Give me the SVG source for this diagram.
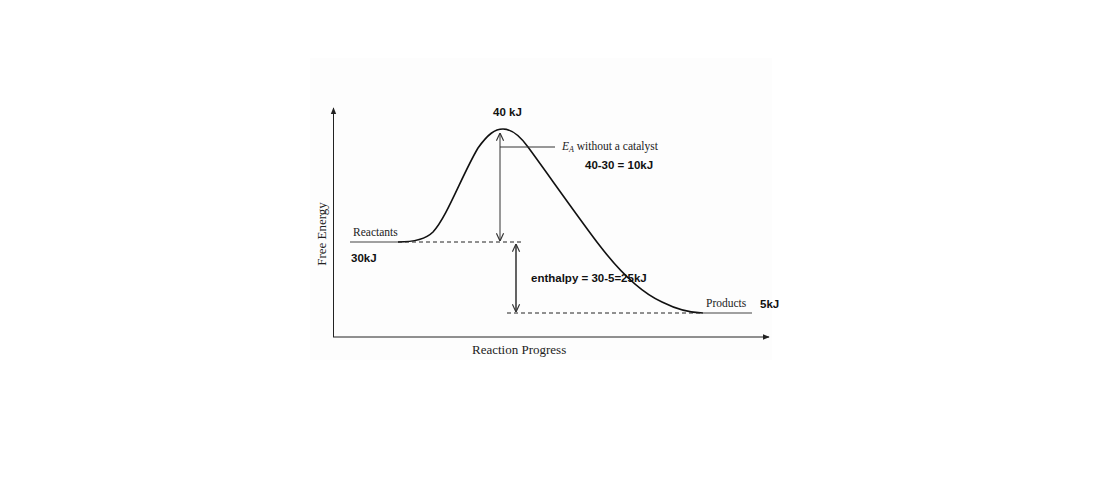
<svg xmlns="http://www.w3.org/2000/svg" width="1104" height="498" viewBox="0 0 1104 498">
<defs>
<marker id="axisHead" viewBox="0 0 10 10" refX="9" refY="5" markerWidth="7" markerHeight="7" orient="auto-start-reverse" markerUnits="userSpaceOnUse">
<path d="M0,1 L10,5 L0,9 Z" fill="#222"/>
</marker>
<marker id="vHead" viewBox="0 0 10 10" refX="9.5" refY="5" markerWidth="9" markerHeight="9" orient="auto-start-reverse" markerUnits="userSpaceOnUse">
<path d="M1,1 L9.5,5 L1,9" fill="none" stroke="#333" stroke-width="1.3"/>
</marker>
</defs>
<style>
.serif{font-family:"Liberation Serif","Times New Roman",serif;fill:#222}
.bold{font-family:"Liberation Sans",Arial,sans-serif;font-weight:bold;font-size:11.5px;fill:#111}
.dash{stroke:#222;stroke-width:1;stroke-dasharray:4,3;fill:none}
.level{stroke:#a0a0a0;stroke-width:2;fill:none}
</style>
<rect x="0" y="0" width="1104" height="498" fill="#ffffff"/>
<rect x="310" y="58" width="462" height="302" fill="#fdfdfd"/>
<g id="axes">
<line x1="333.5" y1="337" x2="333.5" y2="108" stroke="#222" stroke-width="1" marker-end="url(#axisHead)"/>
<line x1="333" y1="337" x2="769" y2="337" stroke="#222" stroke-width="1" marker-end="url(#axisHead)"/>
<text class="serif" x="472" y="354" font-size="13">Reaction Progress</text>
<text class="serif" font-size="13" text-anchor="middle" transform="translate(326,234) rotate(-90)">Free Energy</text>
</g>
<g id="reactants">
<line class="level" x1="350" y1="242" x2="398" y2="242"/>
<text class="serif" x="353" y="236" font-size="11.5">Reactants</text>
<text class="bold" x="351" y="262">30kJ</text>
</g>
<g id="products">
<line class="level" x1="703" y1="313" x2="752" y2="313"/>
<text class="serif" x="706" y="307" font-size="11.5">Products</text>
<text class="bold" x="760" y="308">5kJ</text>
</g>
<g id="curve">
<path d="M398,242 C412,242 425,240 433,232 C447,217 462,175 478,148 C488,134 495,129 503,129 C512,129 520,136 528,147 C545,170 580,220 600,246 C620,272 640,292 662,302 C678,310 690,313 703,313" fill="none" stroke="#111" stroke-width="1.6"/>
<text class="bold" x="493" y="116">40 kJ</text>
</g>
<g id="connectors">
<line class="dash" x1="398" y1="242" x2="524" y2="242"/>
<line class="dash" x1="507" y1="313" x2="703" y2="313"/>
<line x1="500" y1="133" x2="500" y2="241" stroke="#333" stroke-width="1" marker-start="url(#vHead)" marker-end="url(#vHead)"/>
<line x1="500" y1="147" x2="555" y2="147" stroke="#333" stroke-width="1"/>
<line x1="516" y1="244" x2="516" y2="312" stroke="#111" stroke-width="1.3" marker-start="url(#vHead)" marker-end="url(#vHead)"/>
</g>
<g id="activation-label">
<text class="serif" x="562" y="150" font-size="11.5"><tspan font-style="italic">E</tspan><tspan font-style="italic" font-size="8" dy="2">A</tspan><tspan dy="-2"> without a catalyst</tspan></text>
<text class="bold" x="585" y="169">40-30 = 10kJ</text>
</g>
<g id="enthalpy-label">
<text class="bold" x="531" y="282">enthalpy = 30-5=25kJ</text>
</g>
</svg>
